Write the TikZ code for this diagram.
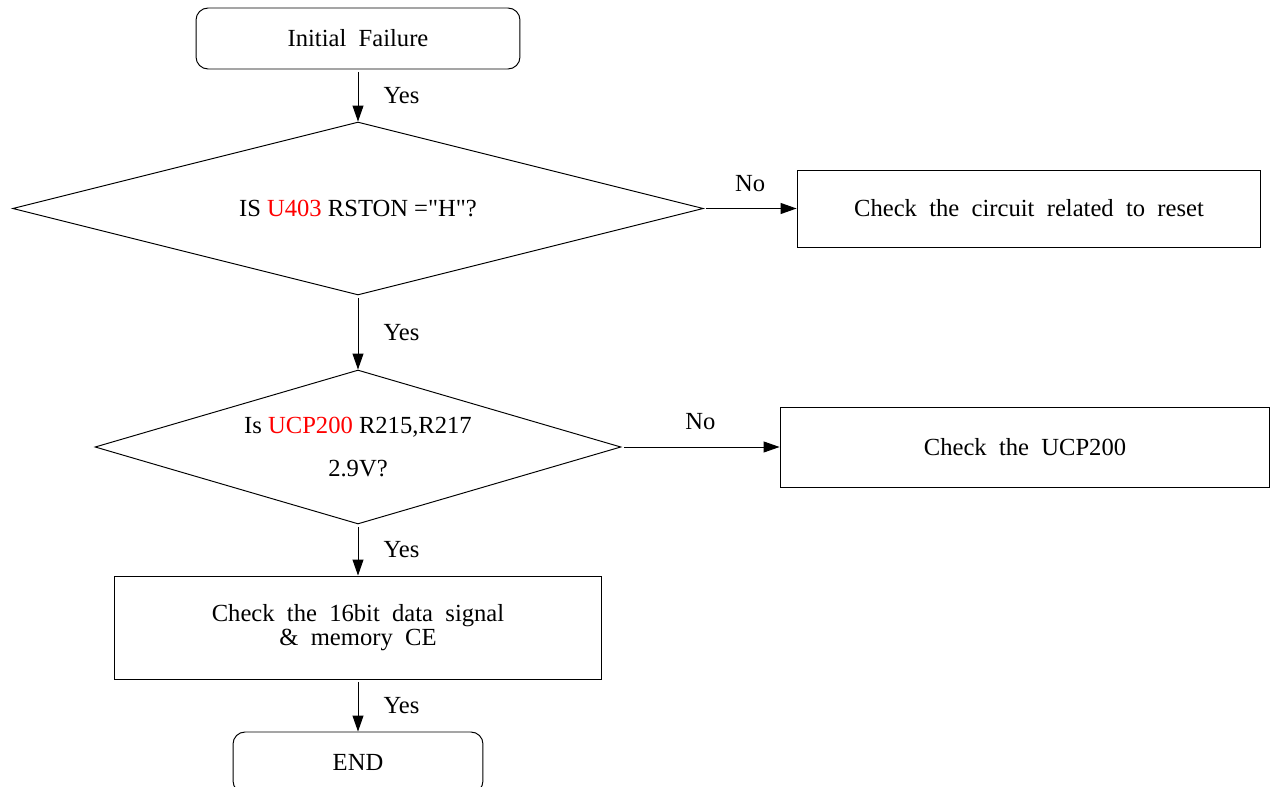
\documentclass[tikz,border=0pt]{standalone}
\usepackage{fontspec}
\setmainfont{Liberation Serif}[Ligatures=TeXOff]
\usepackage{tikz}
\usetikzlibrary{shapes.geometric,arrows.meta}

\begin{document}
\begin{tikzpicture}[x=0.02cm,y=-0.02cm,
    font=\fontsize{14}{16}\selectfont,
    term/.style={rectangle,draw,rounded corners=0.24cm,minimum height=1.22cm,align=center},
    cond/.style={diamond,draw,inner sep=0pt,align=center},
    proc/.style={rectangle,draw,align=center},
    flow/.style={-{Triangle[length=0.32cm,width=0.22cm]},shorten <=0.05cm},
    yes/.style={midway,right=11pt},
    no/.style={midway,above=6pt}
]
\useasboundingbox (0,0) rectangle (1272,787);
\tikzset{every path/.style={line width=0.55pt}}

% main column
\node[term,minimum width=6.48cm] (start) at (358,38.5) {Initial\ \ Failure};
\node[cond,aspect=3.99,minimum width=13.82cm,minimum height=3.46cm] (q1) at (358,208.5)
    {IS \textcolor{red}{U403} RSTON ="H"?};
\node[cond,aspect=3.42,minimum width=10.52cm,minimum height=3.08cm] (q2) at (358,447)
    {Is \textcolor{red}{UCP200} R215,R217\\[9pt] 2.9V?};
\node[proc,minimum width=9.76cm,minimum height=2.06cm] (data) at (358,627.5)
    {Check\ \ the\ \ 16bit\ \ data\ \ signal\\[-2.5pt] \&\ \ memory\ \ CE};
\node[term,minimum width=5cm] (stop) at (358,762.5) {END};

% side boxes
\node[proc,minimum width=9.28cm,minimum height=1.54cm] (reset) at (1029,208.5)
    {Check\ \ the\ \ circuit\ \ related\ \ to\ \ reset};
\node[proc,minimum width=9.8cm,minimum height=1.6cm] (ucp) at (1025,447)
    {Check\ \ the\ \ UCP200};

\draw[flow] (start) -- node[yes]{Yes} (q1);
\draw[flow] (q1) -- node[yes]{Yes} (q2);
\draw[flow] (q2) -- node[yes]{Yes} (data);
\draw[flow] (data) -- node[yes]{Yes} (stop);

\draw[flow] (q1) -- node[no]{No} (reset);
\draw[flow] (q2) -- node[no]{No} (ucp);
\end{tikzpicture}
\end{document}
